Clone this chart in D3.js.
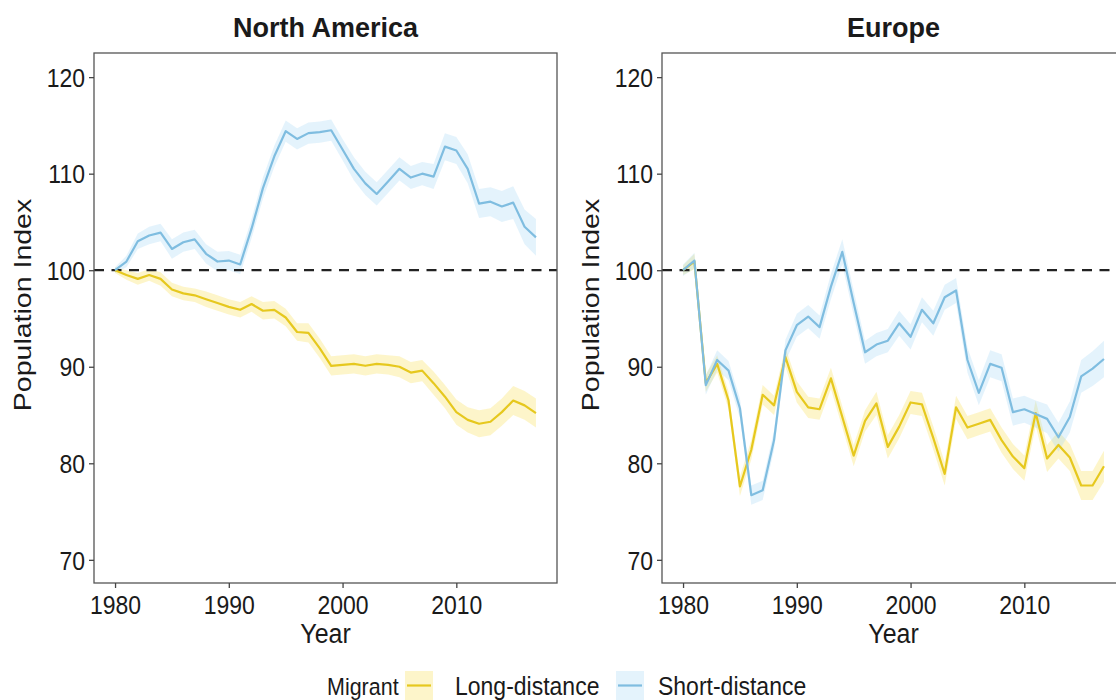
<!DOCTYPE html>
<html>
<head>
<meta charset="utf-8">
<script src="https://cdn.jsdelivr.net/npm/d3@7"></script>
<style>
  body { margin: 0; background: #fff; }
  text { font-family: "Liberation Sans", Arial, sans-serif; fill: #1a1a1a; }
</style>
</head>
<body>
<svg id="chart" width="1116" height="700"></svg>
<script>
// years on the x axis
var years = d3.range(1980, 2018);
var xTicks = [1980, 1990, 2000, 2010];
var yTicks = [70, 80, 90, 100, 110, 120];
var regions = ["North America", "Europe"];
var migrants = ["Long-distance", "Short-distance"];

// population index
var naLong = [100, 99.5, 99.1, 99.5, 99.1, 98, 97.6, 97.4, 97, 96.6,
  96.2, 95.9, 96.5, 95.8, 95.9, 95.1, 93.6, 93.5, 91.9, 90.1,
  90.2, 90.3, 90.1, 90.3, 90.2, 90, 89.4, 89.6, 88.3, 86.9,
  85.3, 84.5, 84.1, 84.3, 85.3, 86.5, 86, 85.2];
var naShort = [100, 100.9, 103, 103.6, 103.9, 102.2, 102.9, 103.2, 101.7, 100.9,
  101, 100.6, 104.3, 108.5, 111.8, 114.4, 113.6, 114.2, 114.3, 114.5,
  112.5, 110.5, 109, 107.9, 109.2, 110.5, 109.6, 110, 109.7, 112.8,
  112.4, 110.5, 106.9, 107.1, 106.6, 107, 104.5, 103.4];
var euLong = [100, 100.9, 88.3, 90.3, 86.5, 77.6, 81.4, 87.1, 86, 91,
  87.4, 85.8, 85.6, 88.8, 84.8, 80.8, 84.4, 86.2, 81.7, 83.8,
  86.3, 86.1, 82.6, 78.9, 85.8, 83.7, 84.1, 84.5, 82.4, 80.7,
  79.5, 85.2, 80.5, 81.9, 80.6, 77.7, 77.7, 79.7];
var euShort = [100, 101, 88.1, 90.7, 89.6, 85.7, 76.7, 77.2, 82.4, 91.7,
  94.3, 95.2, 94.1, 98.3, 101.9, 96.6, 91.5, 92.3, 92.7, 94.5,
  93.1, 95.9, 94.5, 97.2, 97.9, 90.7, 87.3, 90.3, 89.9, 85.3,
  85.6, 85.1, 84.6, 82.7, 84.8, 89, 89.8, 90.8];

// half width of the shaded band
var naLongSe = [0.3, 0.5, 0.6, 0.6, 0.7, 0.7, 0.7, 0.7, 0.8, 0.8,
  0.8, 0.8, 0.8, 0.9, 0.9, 0.9, 0.9, 1, 1, 1,
  1, 1, 1, 1, 1, 1.1, 1.1, 1.1, 1.2, 1.2,
  1.3, 1.3, 1.4, 1.4, 1.4, 1.5, 1.5, 1.5];
var naShortSe = [0.3, 0.6, 0.8, 0.9, 0.9, 1, 1, 1, 1, 1,
  1, 1, 1, 1.1, 1.1, 1.1, 1.1, 1.1, 1.1, 1.1,
  1.1, 1.2, 1.2, 1.2, 1.2, 1.2, 1.2, 1.2, 1.3, 1.4,
  1.4, 1.5, 1.5, 1.5, 1.6, 1.7, 1.8, 1.9];
var euLongSe = [0.5, 0.8, 0.9, 0.9, 0.9, 1, 1, 1, 1, 1,
  1.1, 1.1, 1.1, 1.1, 1.1, 1.1, 1.1, 1.2, 1.2, 1.2,
  1.2, 1.2, 1.2, 1.2, 1.2, 1.2, 1.2, 1.2, 1.3, 1.3,
  1.3, 1.3, 1.4, 1.4, 1.4, 1.5, 1.5, 1.6];
var euShortSe = [0.6, 0.8, 1, 1, 1, 1, 1, 1, 1, 1.1,
  1.2, 1.2, 1.2, 1.3, 1.3, 1.3, 1.2, 1.2, 1.2, 1.3,
  1.3, 1.3, 1.3, 1.3, 1.3, 1.3, 1.3, 1.4, 1.4, 1.4,
  1.4, 1.4, 1.5, 1.5, 1.6, 1.7, 1.8, 1.9];

var lineCol = { "Long-distance": "#E6C81E", "Short-distance": "#7FBDE0" };
var fillCol = { "Long-distance": "#F7DF50", "Short-distance": "#A7D7F5" };

var panels = [
  { title: regions[0], left: 94, series: [
      { name: migrants[0], v: naLong, se: naLongSe },
      { name: migrants[1], v: naShort, se: naShortSe }] },
  { title: regions[1], left: 662, series: [
      { name: migrants[0], v: euLong, se: euLongSe },
      { name: migrants[1], v: euShort, se: euShortSe }] }
];

var svg = d3.select("#chart");
var pw = 463, pTop = 53, pBottom = 583;
var stretch = 1.12; // the original picture is a bit taller than wide

// text drawn a little stretched upwards, like the source image
function label(parent, x, yy, str, size, anchor, bold, rot, sy) {
  var t = parent.append("g")
    .attr("transform", "translate(" + x + "," + yy + ") scale(1," + (sy || stretch) + ")" + (rot ? " rotate(-90)" : ""))
    .append("text")
    .attr("text-anchor", anchor || "start")
    .style("font-size", size + "px")
    .text(str);
  if (bold) t.style("font-weight", "bold");
  return t;
}

var y = d3.scaleLinear().domain([67.6, 122.5]).range([pBottom, pTop]);

panels.forEach(function(p) {
  var x = d3.scaleLinear().domain([1978.15, 2018.85]).range([p.left, p.left + pw]);
  var g = svg.append("g");

  // shaded bands first, lines on top
  p.series.forEach(function(s) {
    var area = d3.area()
      .x(function(d, i) { return x(years[i]); })
      .y0(function(d, i) { return y(d - s.se[i]); })
      .y1(function(d, i) { return y(d + s.se[i]); });
    g.append("path").datum(s.v)
      .attr("d", area)
      .attr("fill", fillCol[s.name])
      .attr("fill-opacity", 0.3);
  });

  g.append("line")
    .attr("x1", p.left).attr("x2", p.left + pw)
    .attr("y1", y(100)).attr("y2", y(100))
    .attr("stroke", "#222").attr("stroke-width", 2.2)
    .attr("stroke-dasharray", "10,7.5");

  p.series.forEach(function(s) {
    var line = d3.line()
      .x(function(d, i) { return x(years[i]); })
      .y(function(d) { return y(d); });
    g.append("path").datum(s.v)
      .attr("d", line)
      .attr("fill", "none")
      .attr("stroke", lineCol[s.name])
      .attr("stroke-width", 2.2)
      .attr("stroke-linejoin", "round");
  });

  // frame
  g.append("rect")
    .attr("x", p.left).attr("y", pTop)
    .attr("width", pw).attr("height", pBottom - pTop)
    .attr("fill", "none").attr("stroke", "#555").attr("stroke-width", 1.3);

  var xAxis = g.append("g")
    .attr("transform", "translate(0," + pBottom + ")")
    .call(d3.axisBottom(x).tickValues(xTicks).tickFormat(d3.format("d")).tickSize(5));
  var yAxis = g.append("g")
    .attr("transform", "translate(" + p.left + ",0)")
    .call(d3.axisLeft(y).tickValues(yTicks).tickSize(5));
  [xAxis, yAxis].forEach(function(a) {
    a.select(".domain").remove();
    a.selectAll(".tick line").attr("stroke", "#444").attr("stroke-width", 1.3);
    a.selectAll(".tick text").attr("fill", "#1a1a1a")
      .style("font-size", "23px").style("font-family", "Liberation Sans, Arial, sans-serif")
      .attr("dy", null)
      .attr("transform", "scale(1," + stretch + ")");
  });
  xAxis.selectAll(".tick text").attr("y", 31 / stretch);
  yAxis.selectAll(".tick text").attr("x", -9).attr("y", 9.2 / stretch);

  label(g, p.left + pw / 2, 37, p.title, 27, "middle", true, false, 1.05);
  label(g, p.left + pw / 2, 643, "Year", 25, "middle");
  label(g, p.left - 63, 305, "Population Index", 23, "middle", false, true, 1.24);
});

// legend
var lg = svg.append("g");
label(lg, 327, 695, "Migrant", 21.5);
var keys = [{ name: migrants[0], kx: 405, tx: 455 }, { name: migrants[1], kx: 616, tx: 658 }];
keys.forEach(function(k) {
  lg.append("rect").attr("x", k.kx).attr("y", 671).attr("width", 28).attr("height", 29)
    .attr("fill", fillCol[k.name]).attr("fill-opacity", 0.3);
  lg.append("line").attr("x1", k.kx + 2).attr("x2", k.kx + 26)
    .attr("y1", 685.5).attr("y2", 685.5)
    .attr("stroke", lineCol[k.name]).attr("stroke-width", 2.2);
  label(lg, k.tx, 695, k.name, 23);
});
</script>
</body>
</html>
